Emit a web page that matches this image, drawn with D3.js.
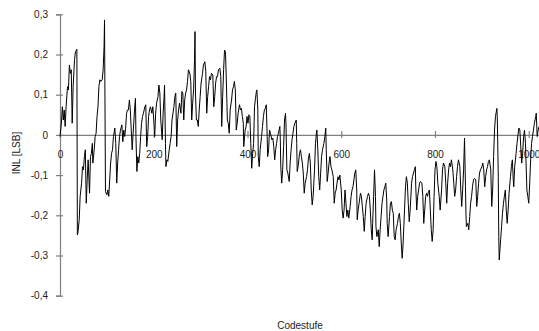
<!DOCTYPE html>
<html>
<head>
<meta charset="utf-8">
<script src="https://cdn.jsdelivr.net/npm/d3@7/dist/d3.min.js"></script>
<style>
  html, body { margin: 0; padding: 0; background: #ffffff; }
  svg { display: block; }
  text { font-family: "Liberation Sans", Arial, sans-serif; }
</style>
</head>
<body>
<svg id="chart" width="539" height="331"></svg>
<script>
// Integral non-linearity per code step (ADC, 10 bit)
const codes = [
  0,3,5,7,9,11,13,16,18,20,22,24,26,28,31,33,35,36,37,38,41,43,46,48,50,52,54,56,58,60,
  63,65,67,69,70,73,75,77,79,81,83,85,87,90,92,94,95,97,100,102,104,106,108,110,112,114,117,119,121,123,
  125,127,129,132,134,136,138,140,142,144,146,148,150,152,154,156,159,161,162,164,166,168,170,172,174,176,178,181,183,185,
  187,189,191,193,196,198,200,202,
  204,206,209,211,213,215,218,220,222,223,225,226,228,230,233,235,237,239,241,243,
  245,247,249,251,253,255,258,260,262,264,266,268,270,272,274,277,279,281,283,285,
  287,288,289,291,293,295,297,299,301,304,306,309,311,313,315,317,319,321,323,326,
  328,330,332,334,336,338,341,343,345,347,349,351,353,355,357,359,361,363,366,368,
  370,372,374,376,378,380,383,385,387,389,391,392,395,397,399,401,403,405,
  407,409,411,413,415,417,419,420,422,423,425,427,430,432,434,436,438,440,442,443,
  445,447,449,452,454,456,458,460,462,464,466,469,470,471,473,475,477,479,481,482,
  484,486,489,491,493,495,497,499,501,504,505,506,508,511,513,515,517,519,521,523,
  526,528,530,532,534,536,538,540,543,545,547,548,550,552,554,556,558,560,563,565,
  567,568,570,572,574,576,578,580,583,585,587,589,591,593,595,597,600,602,604,606,608,
  610,612,614,616,619,621,623,625,627,629,631,633,634,636,639,641,643,645,647,649,
  651,653,656,658,660,662,664,666,667,669,671,673,674,676,679,681,683,685,687,689,
  691,693,695,697,698,700,703,705,707,709,711,713,715,717,720,722,724,726,728,730,
  732,735,737,739,741,743,745,747,750,752,754,756,758,759,761,763,765,767,769,772,
  774,776,778,780,782,784,786,788,790,792,794,796,798,800,802,804,806,809,811,
  814,816,818,821,823,825,827,829,831,833,835,838,840,842,844,846,848,850,853,855,
  857,859,861,863,865,866,867,870,872,874,876,878,880,882,884,887,889,891,893,895,
  897,900,902,904,906,908,910,912,914,916,919,921,923,925,927,929,932,933,935,936,
  937,940,942,944,946,948,950,952,954,956,958,961,963,965,967,968,970,973,975,977,
  979,981,983,985,987,989,991,993,996,998,1000,1002,1004,1006,1008,1010,1012,1015,1016,1018,
  1020,1022
];

const inl = [
  -0.004,0.029,0.070,0.037,0.062,0.021,0.070,0.120,0.112,0.174,0.153,0.162,0.029,0.120,0.187,0.207,0.211,0.213,-0.249,-0.245,
  -0.211,-0.153,-0.120,-0.079,-0.087,-0.054,-0.037,-0.170,-0.112,-0.062,-0.145,-0.054,-0.046,-0.021,-0.070,-0.037,-0.004,0.004,0.046,0.070,
  0.120,0.137,0.133,0.137,0.162,0.220,0.286,-0.141,-0.149,-0.137,-0.153,-0.112,-0.070,-0.046,-0.037,-0.004,0.017,-0.021,-0.120,-0.070,
  -0.037,-0.004,0.012,0.025,-0.017,0.012,-0.004,0.017,0.054,0.062,0.062,0.087,0.062,0.012,-0.037,0.004,0.062,0.091,-0.004,-0.091,
  -0.054,-0.070,-0.046,-0.004,0.029,0.046,0.054,0.070,0.075,-0.029,-0.004,0.046,0.062,0.070,0.054,0.070,0.037,-0.004,
  0.054,0.079,0.095,0.124,0.104,0.037,-0.012,0.054,0.095,0.124,-0.021,-0.079,-0.062,-0.066,-0.037,-0.021,-0.004,0.037,0.054,0.070,
  0.095,0.104,-0.029,0.037,0.062,0.079,0.054,0.108,0.104,0.037,0.087,0.104,0.112,0.133,0.162,0.153,0.133,0.037,0.079,0.112,
  0.187,0.257,0.104,0.037,0.037,0.021,0.062,0.095,0.129,0.153,0.174,0.182,0.158,0.054,0.095,0.120,0.145,0.137,0.153,0.149,
  0.070,0.095,0.129,0.145,0.145,0.162,0.166,0.145,0.021,0.095,0.162,0.211,0.207,0.129,0.037,0.029,0.004,0.062,0.087,0.112,
  0.120,0.133,0.112,0.012,0.029,0.054,0.075,0.062,0.066,0.046,0.029,-0.029,0.012,0.021,0.046,0.029,0.050,0.046,
  -0.021,-0.083,-0.046,-0.021,0.070,0.091,0.108,0.112,0.062,-0.054,-0.079,-0.037,-0.004,0.021,0.046,0.062,0.066,0.075,-0.004,-0.054,
  -0.037,0.012,0.004,-0.012,-0.008,-0.029,-0.062,-0.037,-0.021,-0.004,0.004,0.021,-0.012,-0.079,-0.120,-0.087,-0.029,0.037,0.054,0.029,
  -0.087,-0.095,-0.116,-0.070,-0.037,-0.012,0.004,0.021,0.029,0.037,-0.021,-0.091,-0.079,-0.046,-0.037,-0.054,-0.070,-0.095,-0.145,-0.120,
  -0.104,-0.087,-0.058,-0.046,-0.070,-0.137,-0.174,-0.153,-0.087,-0.021,0.004,0.012,-0.037,-0.104,-0.137,-0.095,-0.054,-0.037,-0.021,-0.004,
  0.017,-0.037,-0.116,-0.095,-0.070,-0.054,-0.079,-0.087,-0.104,-0.170,-0.145,-0.137,-0.120,-0.104,-0.112,-0.100,-0.137,-0.187,-0.207,-0.187,-0.137,
  -0.170,-0.203,-0.187,-0.207,-0.178,-0.153,-0.137,-0.129,-0.112,-0.095,-0.087,-0.137,-0.211,-0.187,-0.162,-0.145,-0.153,-0.178,-0.203,-0.240,
  -0.203,-0.170,-0.153,-0.145,-0.153,-0.187,-0.236,-0.261,-0.220,-0.153,-0.087,-0.153,-0.228,-0.253,-0.236,-0.278,-0.236,-0.203,-0.170,-0.153,
  -0.137,-0.129,-0.120,-0.162,-0.220,-0.253,-0.203,-0.170,-0.166,-0.187,-0.195,-0.253,-0.261,-0.236,-0.220,-0.203,-0.195,-0.220,-0.269,-0.307,
  -0.269,-0.187,-0.129,-0.104,-0.120,-0.170,-0.216,-0.187,-0.120,-0.104,-0.095,-0.087,-0.079,-0.129,-0.187,-0.153,-0.137,-0.120,-0.116,-0.120,
  -0.153,-0.220,-0.187,-0.153,-0.145,-0.153,-0.141,-0.137,-0.187,-0.236,-0.265,-0.236,-0.153,-0.087,-0.066,-0.079,-0.120,-0.153,-0.187,
  -0.137,-0.087,-0.070,-0.079,-0.120,-0.170,-0.120,-0.087,-0.070,-0.079,-0.062,-0.087,-0.120,-0.153,-0.137,-0.104,-0.079,-0.062,-0.079,-0.137,
  -0.178,-0.137,-0.087,-0.008,-0.129,-0.195,-0.228,-0.220,-0.236,-0.203,-0.170,-0.153,-0.129,-0.112,-0.108,-0.112,-0.178,-0.153,-0.120,-0.095,
  -0.087,-0.079,-0.070,-0.087,-0.129,-0.104,-0.087,-0.079,-0.066,-0.062,-0.087,-0.178,-0.137,-0.054,0.012,0.046,0.066,0.037,-0.104,-0.253,
  -0.311,-0.261,-0.228,-0.195,-0.170,-0.153,-0.137,-0.187,-0.220,-0.187,-0.145,-0.104,-0.079,-0.062,-0.112,-0.129,-0.079,-0.046,-0.021,0.000,
  0.017,0.012,-0.029,-0.070,-0.046,-0.004,0.012,-0.021,-0.137,-0.153,-0.170,-0.120,-0.062,-0.021,-0.004,0.012,0.029,0.046,0.054,-0.004,
  0.012,0.021
];

const xTicks = [0, 200, 400, 600, 800, 1000];
const yTicks = [0.3, 0.2, 0.1, 0, -0.1, -0.2, -0.3, -0.4];
const xTitle = "Codestufe";
const yTitle = "INL [LSB]";

const svg = d3.select("#chart");
const axisColor = "#808080";

const x = d3.scaleLinear().domain([0, 1024]).range([60, 540]);
const y = d3.scaleLinear().domain([-0.4, 0.3]).range([295.7, 14.3]);

const fmt = v => (v === 0 ? "0" : v.toFixed(1).replace(".", ","));

// vertical value axis with ticks crossing the line
const gy = svg.append("g")
  .attr("transform", `translate(${x(0)},0)`)
  .call(d3.axisLeft(y).tickValues(yTicks).tickFormat(fmt).tickSizeOuter(0).tickSize(4));
gy.select(".domain").attr("stroke", axisColor).attr("stroke-width", 1.2);
gy.selectAll(".tick line").attr("x1", -4).attr("x2", 3).attr("stroke", axisColor).attr("stroke-width", 1.2);
gy.selectAll(".tick text")
  .attr("x", -12)
  .attr("fill", "#222")
  .style("font-size", "10px")
  .style("font-family", "'Liberation Sans', Arial, sans-serif");

// horizontal axis drawn along INL = 0
const gx = svg.append("g")
  .attr("transform", `translate(0,${y(0)})`)
  .call(d3.axisBottom(x).tickValues(xTicks).tickFormat(d => String(d)).tickSizeOuter(0).tickSize(3));
gx.select(".domain").attr("stroke", axisColor).attr("stroke-width", 1.2);
gx.selectAll(".tick line").attr("y1", -4).attr("y2", 3).attr("stroke", axisColor).attr("stroke-width", 1.2);
gx.selectAll(".tick text")
  .attr("y", 16)
  .attr("fill", "#222")
  .style("font-size", "10px")
  .style("font-family", "'Liberation Sans', Arial, sans-serif");

// INL curve
const pts = codes.map((c, i) => [c, inl[i]]).filter(p => p[1] !== undefined);
svg.append("path")
  .datum(pts)
  .attr("fill", "none")
  .attr("stroke", "#000")
  .attr("stroke-width", 1)
  .attr("stroke-linejoin", "round")
  .attr("d", d3.line().x(d => x(d[0])).y(d => y(d[1])));

// axis titles
svg.append("text")
  .attr("x", 300)
  .attr("y", 328.5)
  .attr("text-anchor", "middle")
  .attr("fill", "#222")
  .style("font-size", "10px")
  .text(xTitle);

svg.append("text")
  .attr("transform", "translate(20,153) rotate(-90)")
  .attr("text-anchor", "middle")
  .attr("fill", "#222")
  .style("font-size", "10px")
  .text(yTitle);
</script>
</body>
</html>
